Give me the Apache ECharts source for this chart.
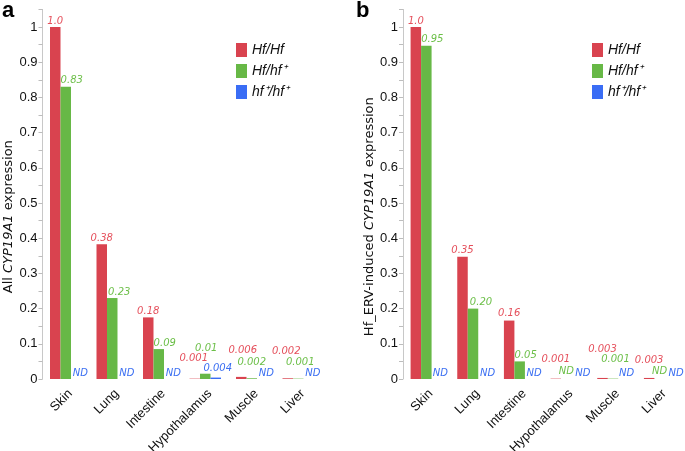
<!DOCTYPE html>
<html><head><meta charset="utf-8">
<script src="https://cdn.jsdelivr.net/npm/echarts@6/dist/echarts.min.js"></script>
<style>html,body{margin:0;padding:0;background:#fff}#c{width:685px;height:451px}</style>
</head><body><div id="c"></div>
<script>
const categories = ['Skin','Lung','Intestine','Hypothalamus','Muscle','Liver'];
const seriesNames = ['Hf/Hf','Hf/hf\u207A','hf\u207A/hf\u207A'];
// Panel a: All CYP19A1 expression
const aHfHf = [1.0, 0.383, 0.175, 0.001, 0.006, 0.002];
const aHfhf = [0.83, 0.23, 0.085, 0.015, 0.002, 0.001];
const ahfhf = [0, 0, 0, 0.004, 0, 0];
const aHfHfText = ['1.0','0.38','0.18','0.001','0.006','0.002'];
const aHfhfText = ['0.83','0.23','0.09','0.01','0.002','0.001'];
const ahfhfText = ['ND','ND','ND','0.004','ND','ND'];
// Panel b: Hf_ERV-induced CYP19A1 expression
const bHfHf = [1.0, 0.347, 0.166, 0.001, 0.003, 0.003];
const bHfhf = [0.947, 0.2, 0.05, 0, 0.001, 0];
const bhfhf = [0, 0, 0, 0, 0, 0];
const bHfHfText = ['1.0','0.35','0.16','0.001','0.003','0.003'];
const bHfhfText = ['0.95','0.20','0.05','ND','0.001','ND'];
const bhfhfText = ['ND','ND','ND','ND','ND','ND'];
const yMin = 0, yMax = 1.05, yStep = 0.05;

// label offsets (style only)
const offA = [
  [[0,0],[0,0],[0,0],[-1,-14],[1.5,-20],[-1.5,-21]],
  [[6,0],[7,0],[6,0],[1,-19],[0,-10],[2,-10.5]],
  [[4,0],[4,0],[4,0],[2,-3],[4,0],[4,0]]
];
const offB = [
  [[0,0],[0,0],[0,-1],[0,-13],[0,-22.5],[0,-12]],
  [[6,0],[8,0],[6,0],[0,-1.5],[2.5,-13],[0,-2]],
  [[3.5,0],[4,0],[4,0],[6,0],[3,0],[6,0]]
];
const barColors = ['#d9434f','#67b846','#3a6df5'];
const textColors = ['#e5505c','#6cbf48','#3b6ff2'];

function mkSeries(idx, vals, texts, offs, si) {
  return {
    name: seriesNames[si], type: 'bar', xAxisIndex: idx, yAxisIndex: idx,
    barWidth: 10.5, barGap: '0%',
    itemStyle: {color: barColors[si]},
    label: {show: true, position: 'top', distance: 1, fontFamily: 'DejaVu Sans', fontStyle: 'italic',
            fontSize: 10, color: textColors[si],
            formatter: p => texts[p.dataIndex]},
    data: vals.map((v, i) => ({value: v, label: {offset: offs[si][i]}}))
  };
}
function yAx(idx, nameRich) {
  return {
    type: 'value', gridIndex: idx, min: yMin, max: yMax, interval: yStep,
    axisLine: {show: true, lineStyle: {color: '#c8c8c8'}},
    axisTick: {show: true, length: 4, lineStyle: {color: '#bdbdbd'}},
    splitLine: {show: false},
    axisLabel: {margin: 5, fontFamily: 'Liberation Sans', fontSize: 13, color: '#111',
      formatter: v => { const k = Math.round(v * 100); return k % 10 ? '' : String(k / 100); }},
    name: nameRich, nameLocation: 'middle', nameGap: 27,
    nameTextStyle: {padding: [0, 45, 0, 0],
      rich: {n: {fontFamily: 'DejaVu Sans', fontSize: 13, color: '#111'},
             i: {fontFamily: 'DejaVu Sans', fontSize: 13, fontStyle: 'italic', color: '#111'}}}
  };
}
function xAx(idx) {
  return {
    type: 'category', gridIndex: idx, data: categories,
    axisLine: {show: false}, axisTick: {show: false},
    axisLabel: {rotate: 45, margin: 8, interval: 0,
      formatter: v => '{t|' + v + '}',
      rich: {t: {padding: [13, 0, 0, 0], fontFamily: 'Liberation Sans', fontSize: 13, color: '#111'}}}
  };
}
function legend(left) {
  return {
    orient: 'vertical', left: left, top: 43, itemWidth: 11, itemHeight: 14, itemGap: 7, padding: 0,
    icon: 'rect', data: seriesNames,
    textStyle: {fontFamily: 'Liberation Sans', fontStyle: 'italic', fontSize: 14, color: '#111'}
  };
}
const chart = echarts.init(document.getElementById('c'), null, {renderer: 'canvas'});
chart.setOption({
  animation: false,
  title: [
    {text: 'a', left: 2, top: 0, padding: 0, textStyle: {fontFamily: 'Liberation Sans', fontWeight: 'bold', fontSize: 22, color: '#000'}},
    {text: 'b', left: 356, top: 0, padding: 0, textStyle: {fontFamily: 'Liberation Sans', fontWeight: 'bold', fontSize: 22, color: '#000'}}
  ],
  legend: [legend(236), legend(592)],
  grid: [
    {left: 42.5, top: 9.4, width: 279, height: 369.6, containLabel: false, outerBoundsMode: 'none'},
    {left: 403, top: 9.4, width: 280, height: 369.6, containLabel: false, outerBoundsMode: 'none'}
  ],
  xAxis: [xAx(0), xAx(1)],
  yAxis: [yAx(0, '{n|All }{i|CYP19A1}{n| expression}'), yAx(1, '{n|Hf_ERV-induced }{i|CYP19A1}{n| expression}')],
  series: [
    mkSeries(0, aHfHf, aHfHfText, offA, 0),
    mkSeries(0, aHfhf, aHfhfText, offA, 1),
    mkSeries(0, ahfhf, ahfhfText, offA, 2),
    mkSeries(1, bHfHf, bHfHfText, offB, 0),
    mkSeries(1, bHfhf, bHfhfText, offB, 1),
    mkSeries(1, bhfhf, bhfhfText, offB, 2)
  ]
});
</script></body></html>
